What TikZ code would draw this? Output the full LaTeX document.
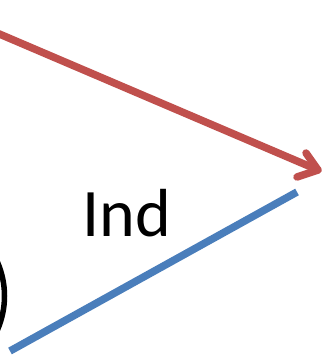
\documentclass[tikz,border=0pt]{standalone}
\usepackage{fontspec}
\setmainfont{Carlito}
\definecolor{myred}{HTML}{C0504D}
\definecolor{myblue}{HTML}{4A7EBB}
\tikzset{
  redline/.style={draw=myred, line width=7.5pt, line cap=round, line join=round},
  blueline/.style={draw=myblue, line width=7.5pt},
  blackarc/.style={draw=black, line width=5.5pt},
  lbl/.style={font=\fontsize{68}{80}\selectfont, inner sep=0pt, anchor=base}
}
\begin{document}
\begin{tikzpicture}[x=1pt,y=-1pt]
\useasboundingbox (0,0) rectangle (323,355);
\clip (0,0) rectangle (323,355);
\coordinate (rs) at (-10,30);
\coordinate (tip) at (318,170);
\coordinate (a1) at (306,153);
\coordinate (a2) at (297,177);
\coordinate (bs) at (10,351);
\coordinate (be) at (297,192);
\draw[redline] (rs) -- (tip);
\draw[redline] (a1) -- (tip) -- (a2);
\draw[blueline] (bs) -- (be);
\coordinate (cc) at (-80,296);
\draw[blackarc] (cc) circle[radius=84.5];
\node[lbl] (ind) at (126.5,236) {Ind};
\end{tikzpicture}
\end{document}
